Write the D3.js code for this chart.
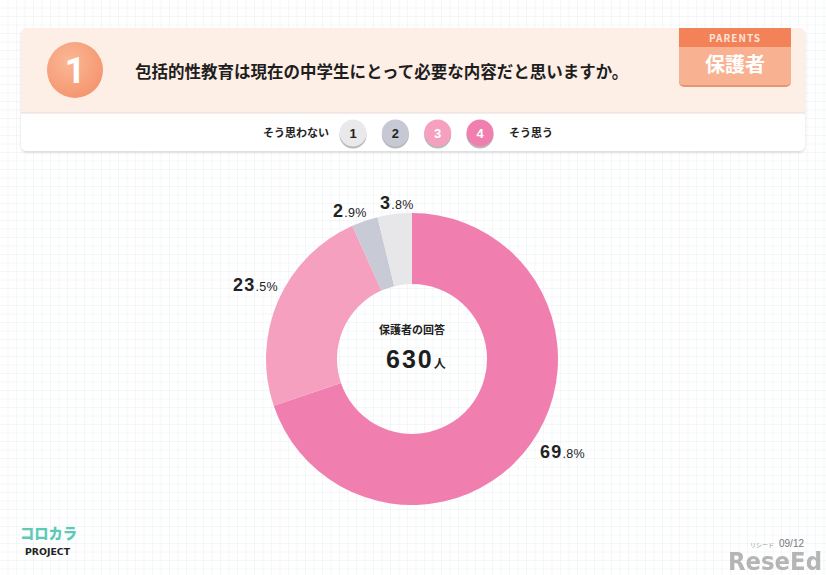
<!DOCTYPE html>
<html><head><meta charset="utf-8">
<script src="https://cdn.jsdelivr.net/npm/d3@7"></script>
<style>
html,body{margin:0;padding:0;background:#fff;}
svg{display:block;font-family:"Noto Sans CJK JP","Noto Sans",sans-serif;}
</style></head>
<body><svg id="c" width="826" height="575"></svg>
<script>
// ---- data ----
const categories = ["4", "3", "2", "1"];
const values = [69.8, 23.5, 2.9, 3.8];
const valueLabels = ["69.8", "23.5", "2.9", "3.8"];
const colors = ["#f07fb0", "#f5a0be", "#c8cad5", "#e7e7e9"];
const scaleLabels = ["1", "2", "3", "4"];
const scaleColors = ["#e9e9eb", "#c6c8d3", "#f5a0be", "#f07fb0"];
const scaleTextColors = ["#222", "#222", "#fff", "#fff"];
const title = "包括的性教育は現在の中学生にとって必要な内容だと思いますか。";
const totalLabel = "保護者の回答";
const totalCount = "630";

const svg = d3.select("#c");
const W = 826, H = 575;
const defs = svg.append("defs");
const numFont = "'Liberation Sans', Arial, sans-serif";

// grid background
const pat = defs.append("pattern").attr("id","grid").attr("width",8.5).attr("height",8.5)
  .attr("patternUnits","userSpaceOnUse");
pat.append("rect").attr("width",8.5).attr("height",8.5).attr("fill","#fff");
pat.append("path").attr("d","M8.5 0V8.5H0").attr("fill","none").attr("stroke","#e3ecee").attr("stroke-width",0.8);
svg.append("rect").attr("width",W).attr("height",H).attr("fill","url(#grid)");

// shadow filter
const f = defs.append("filter").attr("id","sh").attr("x","-10%").attr("y","-10%").attr("width","120%").attr("height","130%");
f.append("feDropShadow").attr("dx",0).attr("dy",1.5).attr("stdDeviation",1.2).attr("flood-color","#000").attr("flood-opacity",0.15);

// header card
svg.append("rect").attr("x",21).attr("y",28).attr("width",784).attr("height",123).attr("rx",6)
  .attr("fill","#fff").attr("filter","url(#sh)");
svg.append("path").attr("d","M21 113V34a6 6 0 0 1 6-6H799a6 6 0 0 1 6 6V113Z").attr("fill","#fdeee6");
svg.append("line").attr("x1",21).attr("x2",805).attr("y1",113).attr("y2",113).attr("stroke","#e2dcd8");

// number circle
const g1 = defs.append("radialGradient").attr("id","og").attr("cx","40%").attr("cy","35%").attr("r","70%");
g1.append("stop").attr("offset","0%").attr("stop-color","#fbb895");
g1.append("stop").attr("offset","100%").attr("stop-color","#f4946e");
svg.append("circle").attr("cx",75).attr("cy",70).attr("r",28).attr("fill","url(#og)");
svg.append("text").attr("x",75).attr("y",71).attr("text-anchor","middle").attr("dominant-baseline","central")
  .attr("font-family","Roboto, 'Noto Sans', sans-serif")
  .attr("font-size",36).attr("font-weight",700).attr("fill","#fff").text("1");

svg.append("text").attr("x",135).attr("y",78).attr("font-size",16.5).attr("font-weight",700).attr("fill","#1e1e1e").text(title);

// badge
svg.append("rect").attr("x",679).attr("y",30).attr("width",112).attr("height",57).attr("rx",5).attr("fill","#e69574");
svg.append("path").attr("d","M679 44V81a4 4 0 0 0 4 4H787a4 4 0 0 0 4-4V44Z").attr("fill","#f9b291");
svg.append("rect").attr("x",679).attr("y",28).attr("width",112).attr("height",19).attr("fill","#f38259");
svg.append("text").attr("x",735).attr("y",41.5).attr("text-anchor","middle").attr("font-size",10).attr("font-weight",700)
  .attr("letter-spacing",1).attr("fill","#fde3d8").text("PARENTS");
svg.append("text").attr("x",735).attr("y",72).attr("text-anchor","middle").attr("font-size",20).attr("font-weight",700)
  .attr("fill","#fff").text("保護者");

// scale legend
const xs = d3.scalePoint().domain(scaleLabels).range([353, 480]);
svg.append("text").attr("x",263).attr("y",137).attr("font-size",11).attr("font-weight",700).attr("fill","#222").text("そう思わない");
svg.append("text").attr("x",509).attr("y",137).attr("font-size",11).attr("font-weight",700).attr("fill","#222").text("そう思う");
const lg = svg.append("g").selectAll("g").data(scaleLabels).join("g")
  .attr("transform", d => `translate(${xs(d)},133)`);
lg.append("circle").attr("cy",2).attr("r",13.5).attr("fill","#b8b8bc");
lg.append("circle").attr("r",13.5).attr("fill",(d,i)=>scaleColors[i]);
lg.append("text").attr("text-anchor","middle").attr("y",4.5).attr("font-family",numFont)
  .attr("font-size",13).attr("font-weight",700).attr("fill",(d,i)=>scaleTextColors[i]).text(d=>d);

// donut
const cx = 412, cy = 359, R = 146, r = 75;
const pie = d3.pie().sort(null).value(d => d.v);
const data = categories.map((c,i)=>({c, v: values[i], lab: valueLabels[i], col: colors[i]}));
const arcs = pie(data);
const arc = d3.arc().innerRadius(r).outerRadius(R);
const dg = svg.append("g").attr("transform",`translate(${cx},${cy})`);
dg.selectAll("path").data(arcs).join("path").attr("d",arc).attr("fill",d=>d.data.col);

// labels
const labelPos = [[540,458],[233,291],[333,217],[380,209]];
arcs.forEach((a,i)=>{
  const [x,y] = labelPos[i];
  const parts = a.data.lab.split(".");
  const t = svg.append("text").attr("x",x).attr("y",y)
    .attr("font-family",numFont).attr("fill","#222");
  t.append("tspan").attr("font-size",18).attr("font-weight",700).attr("letter-spacing",1.2).text(parts[0]);
  t.append("tspan").attr("font-size",12.5).attr("font-weight",400).attr("letter-spacing",0.3).text("." + parts[1] + "%");
});

// center text
svg.append("text").attr("x",cx).attr("y",334).attr("text-anchor","middle").attr("font-size",11).attr("font-weight",700)
  .attr("fill","#222").text(totalLabel);
const ct = svg.append("text").attr("x",386).attr("y",368).attr("fill","#1e1e1e");
ct.append("tspan").attr("font-family",numFont).attr("font-size",25).attr("font-weight",700).attr("letter-spacing",2).text(totalCount);
ct.append("tspan").attr("font-size",12).attr("font-weight",700).attr("dx",0).text("人");

// logo
svg.append("text").attr("x",20).attr("y",539).attr("font-size",15).attr("font-weight",900).attr("fill","#5dc9b6")
  .attr("textLength",57).attr("lengthAdjust","spacingAndGlyphs").text("コロカラ");
svg.append("text").attr("x",25).attr("y",555).attr("font-family","'DejaVu Sans Condensed', sans-serif").attr("font-size",9.5).attr("font-weight",700)
  .attr("textLength",45).attr("lengthAdjust","spacingAndGlyphs").attr("fill","#222").text("PROJECT");

// watermark
svg.append("text").attr("x",750).attr("y",547).attr("font-size",6).attr("fill","#999").text("リシード");
svg.append("text").attr("x",779).attr("y",547).attr("font-family","'Liberation Sans Narrow', sans-serif").attr("font-size",10).attr("fill","#777").text("09/12");
svg.append("text").attr("x",728).attr("y",570).attr("font-family","'Liberation Sans Narrow','DejaVu Sans Condensed', sans-serif")
  .attr("font-size",24).attr("font-weight",700).attr("fill","#a9a9a9").attr("opacity",0.85)
  .attr("textLength",94).attr("lengthAdjust","spacingAndGlyphs").text("ReseEd");
</script></body></html>
